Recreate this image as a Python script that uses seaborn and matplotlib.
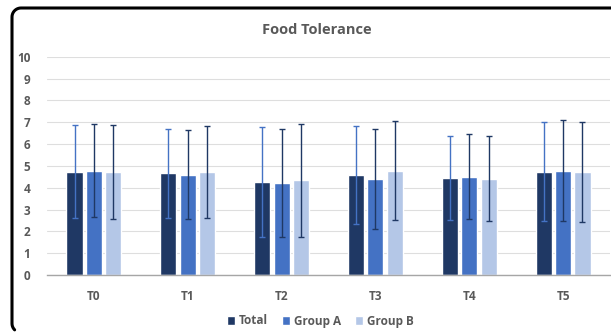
import matplotlib
matplotlib.use("Agg")
import matplotlib.pyplot as plt
import seaborn as sns
import pandas as pd
import numpy as np
from matplotlib.lines import Line2D

categories = ["T0", "T1", "T2", "T3", "T4", "T5"]
series = ["Total", "Group A", "Group B"]
total_mean = [4.74, 4.66, 4.27, 4.59, 4.45, 4.74]
group_a_mean = [4.78, 4.59, 4.20, 4.42, 4.50, 4.78]
group_b_mean = [4.71, 4.71, 4.34, 4.78, 4.42, 4.71]
total_sd = [2.11, 2.05, 2.52, 2.25, 1.93, 2.26]
group_a_sd = [2.13, 2.03, 2.48, 2.29, 1.94, 2.30]
group_b_sd = [2.14, 2.10, 2.60, 2.28, 1.95, 2.29]
y_ticks = [0, 1, 2, 3, 4, 5, 6, 7, 8, 9, 10]

bar_colors = ["#1F3864", "#4472C4", "#B4C7E7"]
err_colors = ["#4472C4", "#1F3864", "#1F3864"]
text_color = "#595959"

means = [total_mean, group_a_mean, group_b_mean]
sds = [total_sd, group_a_sd, group_b_sd]
rows = []
for s, m in zip(series, means):
    for c, v in zip(categories, m):
        rows.append({"Time": c, "Series": s, "Value": v})
df = pd.DataFrame(rows)

sns.set_theme(style="white")
plt.rcParams["font.family"] = ["Open Sans", "DejaVu Sans"]

W, H = 611, 334
fig = plt.figure(figsize=(W / 100, H / 100), dpi=100)
ax = fig.add_axes([0.0769, 0.1766, 0.9215, 0.6536])

sns.barplot(data=df, x="Time", y="Value", hue="Series", order=categories,
            hue_order=series, palette=bar_colors, width=0.62, gap=0.17,
            errorbar=None, saturation=1, ax=ax, legend=True)

bar_containers = list(ax.containers)
for i, cont in enumerate(bar_containers):
    xs = [p.get_x() + p.get_width() / 2 for p in cont.patches]
    hs = [p.get_height() for p in cont.patches]
    ax.errorbar(xs, hs, yerr=sds[i], fmt="none", ecolor=err_colors[i],
                elinewidth=1.0, capsize=2.5, capthick=1.0, zorder=4)

ax.set_ylim(0, 10)
ax.set_xlim(-0.5, 5.5)
ax.set_yticks(y_ticks)
ax.yaxis.grid(True, color="#DEDEDE", linewidth=0.8)
ax.set_axisbelow(True)
for sp in ["top", "right", "left"]:
    ax.spines[sp].set_visible(False)
ax.spines["bottom"].set_color("#A6A6A6")
ax.spines["bottom"].set_linewidth(1.0)
ax.tick_params(axis="both", length=0, labelsize=8.5, colors=text_color)
ax.tick_params(axis="y", pad=12)
ax.tick_params(axis="x", pad=11)
for lab in ax.get_xticklabels() + ax.get_yticklabels():
    lab.set_fontweight("bold")
ax.set_xlabel("")
ax.set_ylabel("")

handles, labels = ax.get_legend_handles_labels()
ax.get_legend().remove()
leg = fig.legend(handles, labels, loc="center", bbox_to_anchor=(320 / W, 1 - 321 / H),
                 ncol=3, frameon=False, fontsize=8.5, handlelength=0.7, handleheight=0.7,
                 handletextpad=0.3, columnspacing=1.2)
for t in leg.get_texts():
    t.set_color(text_color)
    t.set_fontweight("bold")

fig.text(317 / W, 1 - 30 / H, "Food Tolerance", ha="center", va="center",
         fontsize=10.5, fontweight="bold", color=text_color)

# Chart frame: left and top edges with rounded corners (right/bottom cut off)
r = 9.0
x0, ytop, ybot = 12.0, 326.0, 1.5
a1 = np.linspace(np.pi / 2, np.pi, 12)
a2 = np.linspace(np.pi, 1.25 * np.pi, 6)
fx = np.concatenate([[W + 5], x0 + r + r * np.cos(a1), x0 + r + r * np.cos(a2)])
fy = np.concatenate([[ytop], ytop - r + r * np.sin(a1), ybot + r + r * np.sin(a2)])
fig.add_artist(Line2D(fx / W, fy / H, color="black", linewidth=2.2,
                      solid_capstyle="round", solid_joinstyle="round"))

fig.savefig("out.png", dpi=100)
